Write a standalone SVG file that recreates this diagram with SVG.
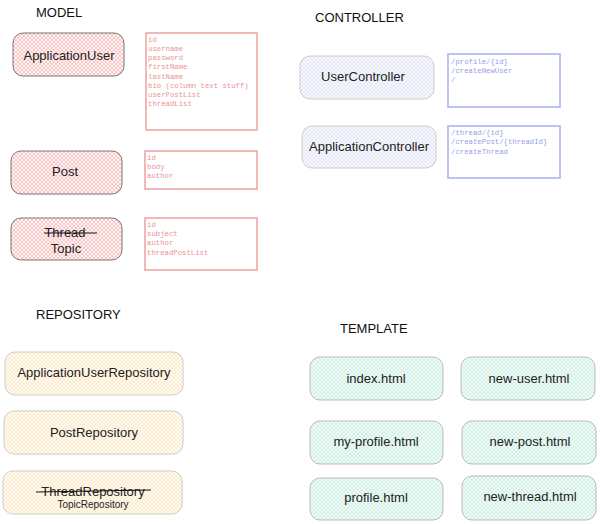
<svg xmlns="http://www.w3.org/2000/svg" width="600" height="524" viewBox="0 0 600 524">
<defs>
<pattern id="hRed" width="4" height="4" patternUnits="userSpaceOnUse"><rect width="4" height="4" fill="#fff6f6"/><path d="M0,0L4,4M4,0L0,4" stroke="#f5a5a5" stroke-width="0.6"/></pattern>
<pattern id="hBlue" width="4" height="4" patternUnits="userSpaceOnUse"><rect width="4" height="4" fill="#fafbfe"/><path d="M0,0L4,4M4,0L0,4" stroke="#cdd1ea" stroke-width="0.5"/></pattern>
<pattern id="hYel" width="4" height="4" patternUnits="userSpaceOnUse"><rect width="4" height="4" fill="#fffcf5"/><path d="M0,0L4,4M4,0L0,4" stroke="#fbdcaa" stroke-width="0.55"/></pattern>
<pattern id="hGrn" width="4" height="4" patternUnits="userSpaceOnUse"><rect width="4" height="4" fill="#f6fcfa"/><path d="M0,0L4,4M4,0L0,4" stroke="#ade4d1" stroke-width="0.55"/></pattern>
</defs>
<style>
.h{font-family:"Liberation Sans",Arial,sans-serif;font-size:13px;fill:#111}
.l{font-family:"Liberation Sans",Arial,sans-serif;font-size:13px;fill:#222;text-anchor:middle}
.s{font-family:"Liberation Sans",Arial,sans-serif;font-size:10px;fill:#222;text-anchor:middle}
.f{font-family:"Liberation Mono","Courier New",monospace;font-size:7.3px}
.fr{fill:#e89494}.fb{fill:#98a0e8}
.bm{fill:url(#hRed);stroke:#777;stroke-width:1}
.bc{fill:url(#hBlue);stroke:#ccc;stroke-width:1}
.br{fill:url(#hYel);stroke:#ccc;stroke-width:1}
.bt{fill:url(#hGrn);stroke:#bbb;stroke-width:1}
.rr{fill:#fff;stroke:#eea0a0;stroke-width:1.5}
.rb{fill:#fff;stroke:#a8b0f0;stroke-width:1.5}
.st{stroke:#111;stroke-width:1}
</style>
<text class="h" x="36" y="17">MODEL</text>
<text class="h" x="315" y="22">CONTROLLER</text>
<text class="h" x="36" y="319">REPOSITORY</text>
<text class="h" x="340" y="333">TEMPLATE</text>

<g id="applicationuser"><rect class="bm" x="13" y="33" width="111" height="43" rx="10"/><text class="l" x="69" y="60" font-size="14">ApplicationUser</text></g>
<g id="applicationuser-fields"><rect class="rr" x="146" y="33" width="111" height="97"/>
<text class="f fr" x="148" y="42">id</text><text class="f fr" x="148" y="51">username</text><text class="f fr" x="148" y="60">password</text><text class="f fr" x="148" y="69">firstName</text><text class="f fr" x="148" y="79">lastName</text><text class="f fr" x="148" y="88">bio (column text stuff)</text><text class="f fr" x="148" y="97">userPostList</text><text class="f fr" x="148" y="106">threadList</text></g>

<g id="post"><rect class="bm" x="11" y="151" width="111" height="43" rx="10"/><text class="l" x="65" y="176" font-size="14">Post</text></g>
<g id="post-fields"><rect class="rr" x="145" y="151" width="112" height="38"/>
<text class="f fr" x="147" y="160">id</text><text class="f fr" x="147" y="169">body</text><text class="f fr" x="147" y="178">author</text></g>

<g id="topic"><rect class="bm" x="11" y="218" width="111" height="42" rx="10"/><text class="l" x="65" y="237">Thread</text><line class="st" x1="44" y1="233" x2="97" y2="233"/><text class="l" x="66" y="253">Topic</text></g>
<g id="topic-fields"><rect class="rr" x="145" y="218" width="112" height="52"/>
<text class="f fr" x="147" y="227">id</text><text class="f fr" x="147" y="236">subject</text><text class="f fr" x="147" y="245">author</text><text class="f fr" x="147" y="255">threadPostList</text></g>

<g id="usercontroller"><rect class="bc" x="300" y="56" width="134" height="43" rx="10"/><text class="l" x="363" y="81">UserController</text></g>
<g id="usercontroller-routes"><rect class="rb" x="448" y="54" width="112" height="53"/>
<text class="f fb" x="451" y="64">/profile/{id}</text><text class="f fb" x="451" y="73">/createNewUser</text><text class="f fb" x="451" y="82">/</text></g>

<g id="applicationcontroller"><rect class="bc" x="302" y="126" width="134" height="42" rx="10"/><text class="l" x="369" y="151">ApplicationController</text></g>
<g id="applicationcontroller-routes"><rect class="rb" x="448" y="126" width="112" height="52"/>
<text class="f fb" x="451" y="135">/thread/{id}</text><text class="f fb" x="451" y="144">/createPost/{threadId}</text><text class="f fb" x="451" y="154">/createThread</text></g>

<g id="applicationuserrepository"><rect class="br" x="5" y="352" width="178" height="43" rx="10"/><text class="l" x="94" y="377">ApplicationUserRepository</text></g>
<g id="postrepository"><rect class="br" x="4" y="411" width="179" height="43" rx="10"/><text class="l" x="94" y="437">PostRepository</text></g>
<g id="topicrepository"><rect class="br" x="3" y="471" width="179" height="43" rx="10"/><text class="l" x="93" y="496">ThreadRepository</text><line class="st" x1="36" y1="492" x2="151" y2="490" stroke-width="0.8"/><text class="s" x="93" y="508">TopicRepository</text></g>

<g id="index"><rect class="bt" x="310" y="357" width="133" height="43" rx="10"/><text class="l" x="376" y="383">index.html</text></g>
<g id="new-user"><rect class="bt" x="461" y="357" width="134" height="43" rx="10"/><text class="l" x="529" y="383">new-user.html</text></g>
<g id="my-profile"><rect class="bt" x="310" y="421" width="133" height="43" rx="10"/><text class="l" x="376" y="446">my-profile.html</text></g>
<g id="new-post"><rect class="bt" x="462" y="421" width="134" height="43" rx="10"/><text class="l" x="530" y="446">new-post.html</text></g>
<g id="profile"><rect class="bt" x="310" y="478" width="133" height="42" rx="10"/><text class="l" x="376" y="502">profile.html</text></g>
<g id="new-thread"><rect class="bt" x="462" y="476" width="134" height="44" rx="10"/><text class="l" x="530" y="501">new-thread.html</text></g>
<g id="connectors"></g>
</svg>
